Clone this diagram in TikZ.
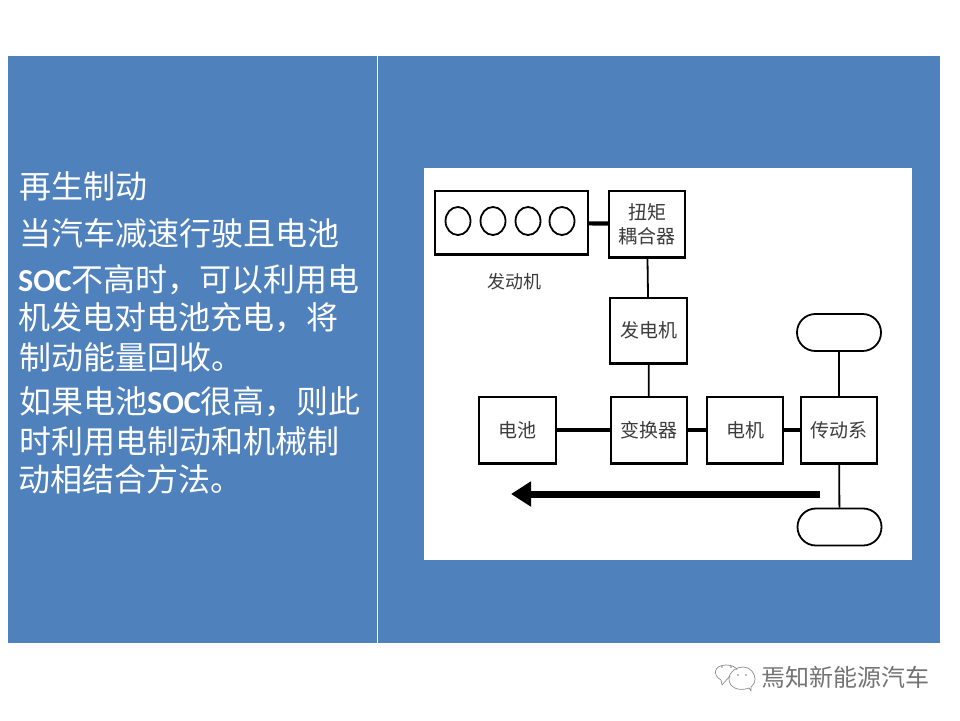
\documentclass[tikz,border=0pt]{standalone}
\usepackage{fontspec}
\setmainfont{Noto Sans CJK SC}
\newfontfamily\socfont{Carlito}
\usetikzlibrary{arrows.meta,shapes.geometric}
\definecolor{panelblue}{HTML}{4F81BD}
\definecolor{inkgray}{HTML}{3C3C3C}
\begin{document}
\begin{tikzpicture}[
        x=1pt, y=-1pt,
        panel/.style={fill=panelblue},
        bodytext/.style={anchor=west, inner sep=0pt, text=white, font=\fontsize{32}{32}\selectfont},
        unit/.style={rectangle, draw=black, line width=2.4pt, fill=white, inner sep=0pt, text=inkgray, align=center, font=\fontsize{19}{24}\selectfont},
        cylinder/.style={ellipse, draw=black, line width=1.8pt, minimum width=25pt, minimum height=28pt, inner sep=0pt},
        wheel/.style={rectangle, rounded corners=18.4pt, draw=black, line width=1.8pt, minimum width=84pt, minimum height=37pt, inner sep=0pt},
        thinlink/.style={draw=black, line width=1.8pt},
        thicklink/.style={draw=black, line width=4.2pt},
        bubble/.style={draw=black!45, line width=0.7pt}
      ]
      \useasboundingbox (0,0) rectangle (960,720);
      \fill[white] (0,0) rectangle (960,720);
      \path[panel] (8,56) rectangle (377,643);
      \path[panel] (378,56) rectangle (940,643);
      \fill[white] (424,168) rectangle (912,560);

      \node[bodytext] (line1) at (19,186) {再生制动};
      \node[bodytext] (line2) at (19,233) {当汽车减速行驶且电池};
      \node[bodytext] (line3) at (18,280) {{\socfont\bfseries SOC}不高时，可以利用电};
      \node[bodytext] (line4) at (18,318) {机发电对电池充电，将};
      \node[bodytext] (line5) at (19,357) {制动能量回收。};
      \node[bodytext] (line6) at (19,402) {如果电池{\socfont\bfseries SOC}很高，则此};
      \node[bodytext] (line7) at (19,441) {时利用电制动和机械制};
      \node[bodytext] (line8) at (18,479) {动相结合方法。};

      \node[unit, minimum width=153pt, minimum height=63pt] (engine) at (511.5,222.5) {};
      \foreach \cx [count=\i] in {458,493,528,562}
        \node[cylinder] (cyl\i) at (\cx,221) {};
      \node[unit, minimum width=76pt, minimum height=66pt] (coupler) at (647,224) {扭矩\\耦合器};
      \node[unit, minimum width=77pt, minimum height=65pt] (generator) at (648.5,330.5) {发电机};
      \node[unit, minimum width=77pt, minimum height=66pt] (battery) at (517.5,430) {电池};
      \node[unit, minimum width=76pt, minimum height=66pt] (converter) at (649,430) {变换器};
      \node[unit, minimum width=76pt, minimum height=66pt] (motor) at (745,430) {电机};
      \node[unit, minimum width=76pt, minimum height=66pt] (drive) at (839,430) {传动系};
      \node[wheel] (wheeltop) at (839,332.5) {};
      \node[wheel] (wheelbottom) at (839.5,527) {};
      \node[inner sep=0pt, text=inkgray, font=\fontsize{18}{18}\selectfont] (enginelabel) at (514,282) {发动机};

      \draw[thicklink] (engine) -- (coupler);
      \draw[thinlink] (coupler) -- (generator);
      \draw[thinlink] (generator) -- (converter);
      \draw[thicklink] (battery) -- (converter);
      \draw[thicklink] (converter) -- (motor);
      \draw[thicklink] (motor) -- (drive);
      \draw[thinlink] (wheeltop) -- (drive);
      \draw[thinlink] (drive) -- (wheelbottom);

      \foreach \n in {engine,coupler,generator,battery,converter,motor,drive}
        \draw[black, line width=3.6pt] ([yshift=0.6pt]\n.south west) -- ([yshift=0.6pt]\n.south east);

      \coordinate (flowstart) at (820,494);
      \coordinate (flowend) at (511,494);
      \draw[black, line width=7pt, -{Triangle[length=20pt, width=24pt]}] (flowstart) -- (flowend);

      \draw[bubble] (722,685) -- (721,680) .. controls (712,675) and (714,665) .. (726,665)
        .. controls (733,665) and (737,668) .. (737,670);
      \draw[bubble] (730,676) -- (722,685);
      \draw[bubble] (751,691) -- (749,688) .. controls (738,692) and (729,687) .. (729,679)
        .. controls (729,671) and (737,667) .. (743,667)
        .. controls (750,667) and (755,673) .. (755,679)
        .. controls (755,683) and (753,685) .. (751,687) -- (751,691);
      \foreach \ex/\ey in {722/667,731/667,738/675,746/675}
        \fill[black!50] (\ex,\ey) circle (0.9pt);
      \node[inner sep=0pt, text=black!55, font=\fontsize{24}{24}\selectfont] (brand) at (845,677) {焉知新能源汽车};
    \end{tikzpicture}
\end{document}
